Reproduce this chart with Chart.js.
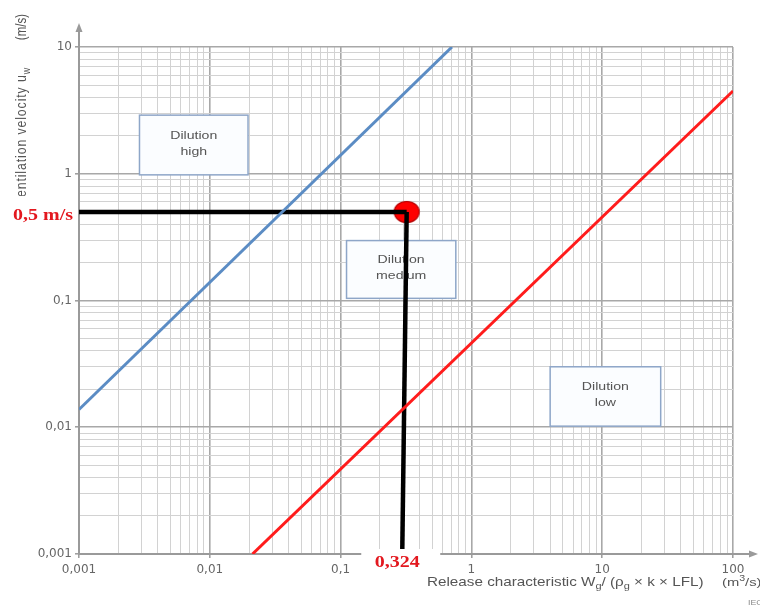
<!DOCTYPE html>
<html><head><meta charset="utf-8">
<script src="https://cdn.jsdelivr.net/npm/chart.js@4/dist/chart.umd.min.js"></script>
<style>html,body{margin:0;padding:0;background:#fff}canvas{display:block}</style>
</head><body>
<canvas id="c" width="760" height="612"></canvas>
<script>
// ---- data ----
const xDecades = [0.001, 0.01, 0.1, 1, 10, 100];
const xTickLabels = ['0,001', '0,01', '0,1', '1', '10', '100'];
const yDecades = [0.001, 0.01, 0.1, 1, 10];
const yTickLabels = ['0,001', '0,01', '0,1', '1', '10'];
const blueX = [0.001, 0.71];
const blueY = [0.0138, 10];
const redX = [0.0212, 100];
const redY = [0.001, 4.5];
const pointX = [0.32];
const pointY = [0.5];
const hLineX = [0.001, 0.32];
const hLineY = [0.5, 0.5];
const vLineX = [0.32, 0.296];
const vLineY = [0.5, 0.001];
const boxLabels = [['Dilution', 'high'], ['Dilution', 'medium'], ['Dilution', 'low']];
const boxX = [[0.0029, 0.0196], [0.111, 0.76], [4.0, 28]];
const boxY = [[0.98, 2.9], [0.104, 0.297], [0.0102, 0.030]];
const pointXLabel = '0,324';
const pointYLabel = '0,5 m/s';
const xTitleParts = [['Release characteristic W'], ['g', 1], ['/ (\u03c1'], ['g', 1], [' \u00d7 k \u00d7 LFL)']];
const xUnitParts = [['(m'], ['3', 2], ['/s)']];
const yTitleParts = [['Ventilation velocity u'], ['w', 1]];
const yUnitParts = [['(m/s)']];

// ---- helpers ----
const pts = (xs, ys) => xs.map((x, i) => ({ x, y: ys[i] }));
function gridValues(dec) {
  const out = [];
  for (let i = 0; i < dec.length - 1; i++) for (let m = 1; m < 10; m++) out.push(dec[i] * m);
  out.push(dec[dec.length - 1]);
  return out;
}
const decIndex = (v, dec) => dec.findIndex(d => Math.abs(d - v) / d < 1e-6);
const MAJOR = '#a8a8a8', MINOR = '#d2d2d2';
const SX = 1.25; // horizontal stretch of the reference text
const TXT = '#555555';
const FONT = 'Liberation Sans, Arial, sans-serif';

function partsWidth(ctx, parts, size) {
  let w = 0;
  for (const p of parts) {
    ctx.font = (p[1] ? size * 0.72 : size) + 'px ' + FONT;
    w += ctx.measureText(p[0]).width;
  }
  return w;
}
function drawParts(ctx, parts, size) { // draws from (0,0), baseline middle
  let x = 0;
  for (const p of parts) {
    const s = p[1] ? size * 0.72 : size;
    ctx.font = s + 'px ' + FONT;
    const dy = p[1] === 1 ? size * 0.3 : (p[1] === 2 ? -size * 0.35 : 0);
    ctx.fillText(p[0], x, dy);
    x += ctx.measureText(p[0]).width;
  }
}

// ellipse point image
const dot = document.createElement('canvas');
dot.width = 28; dot.height = 24;
(() => {
  const g = dot.getContext('2d');
  g.beginPath(); g.ellipse(14, 12, 12.5, 10.5, 0, 0, Math.PI * 2);
  g.fillStyle = '#ff0000'; g.fill();
  g.lineWidth = 1.2; g.strokeStyle = '#b40000'; g.stroke();
})();

const boxPlugin = {
  id: 'boxes',
  beforeDatasetsDraw(chart) {
    const { ctx, scales: { x, y } } = chart;
    ctx.save();
    boxLabels.forEach((lab, i) => {
      const l = x.getPixelForValue(boxX[i][0]), r = x.getPixelForValue(boxX[i][1]);
      const t = y.getPixelForValue(boxY[i][1]), b = y.getPixelForValue(boxY[i][0]);
      ctx.fillStyle = '#fbfdff';
      ctx.fillRect(l, t, r - l, b - t);
      ctx.strokeStyle = '#8ea6c8'; ctx.lineWidth = 1.5;
      ctx.strokeRect(l, t, r - l, b - t);
      ctx.fillStyle = TXT; ctx.textBaseline = 'middle';
      const h = b - t;
      lab.forEach((s, k) => {
        ctx.font = '11.3px ' + FONT;
        const w = ctx.measureText(s).width * SX;
        ctx.save();
        ctx.translate((l + r) / 2 - w / 2, t + h * (k === 0 ? 0.34 : 0.61));
        ctx.scale(SX, 1);
        ctx.textAlign = 'left';
        ctx.fillText(s, 0, 0);
        ctx.restore();
      });
    });
    ctx.restore();
  }
};

const decoPlugin = {
  id: 'deco',
  afterDraw(chart) {
    const { ctx, scales: { x, y } } = chart;
    const ax = x.left, ay = y.bottom;
    ctx.save();
    // axis arrows
    ctx.strokeStyle = '#9a9a9a'; ctx.fillStyle = '#9a9a9a'; ctx.lineWidth = 2;
    ctx.beginPath(); ctx.moveTo(ax, y.top); ctx.lineTo(ax, y.top - 18); ctx.stroke();
    ctx.beginPath(); ctx.moveTo(ax, y.top - 24); ctx.lineTo(ax - 3.5, y.top - 15); ctx.lineTo(ax + 3.5, y.top - 15); ctx.closePath(); ctx.fill();
    ctx.beginPath(); ctx.moveTo(x.right, ay); ctx.lineTo(x.right + 18, ay); ctx.stroke();
    ctx.beginPath(); ctx.moveTo(x.right + 25, ay); ctx.lineTo(x.right + 16, ay - 3.5); ctx.lineTo(x.right + 16, ay + 3.5); ctx.closePath(); ctx.fill();

    // x title
    ctx.fillStyle = TXT; ctx.textBaseline = 'middle'; ctx.textAlign = 'left';
    ctx.save(); ctx.translate(427, 583); ctx.scale(SX, 1); drawParts(ctx, xTitleParts, 12.2); ctx.restore();
    ctx.save(); ctx.translate(722, 583); ctx.scale(SX, 1); drawParts(ctx, xUnitParts, 11.8); ctx.restore();
    // y title (rotated)
    ctx.letterSpacing = '0.9px';
    const ySize = 12.3;
    const wMain = partsWidth(ctx, yTitleParts, ySize);
    ctx.save(); ctx.translate(22, 67 + wMain); ctx.scale(SX, 1); ctx.rotate(-Math.PI / 2); drawParts(ctx, yTitleParts, ySize); ctx.restore();
    ctx.letterSpacing = '0px';
    const wUnit = partsWidth(ctx, yUnitParts, 11.5);
    ctx.save(); ctx.translate(22, 14 + wUnit); ctx.scale(SX, 1); ctx.rotate(-Math.PI / 2); drawParts(ctx, yUnitParts, 11.5); ctx.restore();
    // IEC mark
    ctx.font = '7px ' + FONT; ctx.fillStyle = '#888';
    ctx.save(); ctx.translate(748, 603); ctx.scale(SX, 1); ctx.fillText('IEC', 0, 0); ctx.restore();

    // value labels with white backgrounds
    const py = y.getPixelForValue(pointY[0]);
    ctx.fillStyle = '#ffffff';
    ctx.fillRect(0, py - 16, ax - 1, 45);
    const vx = x.getPixelForValue(vLineX[1]);
    ctx.fillRect(vx - 41, ay - 5, 79, 26);
    ctx.fillStyle = '#e3181f';
    ctx.font = 'bold 16px Liberation Serif, serif';
    ctx.textBaseline = 'middle'; ctx.textAlign = 'center';
    ctx.save(); ctx.translate(43, py + 4); ctx.scale(SX, 1); ctx.fillText(pointYLabel, 0, 0); ctx.restore();
    ctx.save(); ctx.translate(vx - 5, ay + 9); ctx.scale(SX, 1); ctx.fillText(pointXLabel, 0, 0); ctx.restore();
    ctx.restore();
  }
};

const gridColor = dec => c => (c.tick && decIndex(c.tick.value, dec) >= 0) ? MAJOR : MINOR;
const gridWidth = dec => c => (c.tick && decIndex(c.tick.value, dec) >= 0) ? 1.6 : 1;
const tickColor = dec => c => (c.tick && decIndex(c.tick.value, dec) >= 0) ? '#9a9a9a' : 'rgba(0,0,0,0)';

new Chart(document.getElementById('c'), {
  type: 'scatter',
  data: {
    datasets: [
      { data: pts(blueX, blueY), showLine: true, borderColor: '#5b8cc4', borderWidth: 3, pointRadius: 0 },
      { data: pts(redX, redY), showLine: true, borderColor: '#ff1c1c', borderWidth: 3, pointRadius: 0 },
      { data: pts(hLineX, hLineY), showLine: true, borderColor: '#000000', borderWidth: 4.5, pointRadius: 0, borderCapStyle: 'butt' },
      { data: pts(vLineX, vLineY), showLine: true, borderColor: '#000000', borderWidth: 4.5, pointRadius: 0, borderCapStyle: 'butt' },
      { data: pts(pointX, pointY), pointStyle: dot, pointRadius: 12 }
    ]
  },
  options: {
    responsive: false,
    devicePixelRatio: 1,
    animation: false,
    layout: { padding: { top: 47, right: 27, left: 0, bottom: 0 } },
    plugins: { legend: { display: false }, tooltip: { enabled: false } },
    scales: {
      x: {
        type: 'logarithmic', min: xDecades[0], max: xDecades[xDecades.length - 1],
        afterBuildTicks: s => { s.ticks = gridValues(xDecades).map(v => ({ value: v })); },
        afterFit: s => { s.height = 58; },
        ticks: {
          autoSkip: false, maxRotation: 0, padding: 5, color: '#666',
          font: { family: 'DejaVu Sans', size: 12 },
          callback: v => { const i = decIndex(v, xDecades); return i >= 0 ? xTickLabels[i] : ''; }
        },
        grid: { color: gridColor(xDecades), lineWidth: gridWidth(xDecades), tickLength: 4, tickColor: tickColor(xDecades), tickWidth: 1.5 },
        border: { display: true, color: '#9a9a9a', width: 2 }
      },
      y: {
        type: 'logarithmic', min: yDecades[0], max: yDecades[yDecades.length - 1],
        afterBuildTicks: s => { s.ticks = gridValues(yDecades).map(v => ({ value: v })); },
        afterFit: s => { s.width = 79; },
        ticks: {
          autoSkip: false, padding: 3, color: '#666',
          font: { family: 'DejaVu Sans', size: 12 },
          callback: v => { const i = decIndex(v, yDecades); return i >= 0 ? yTickLabels[i] : ''; }
        },
        grid: { color: gridColor(yDecades), lineWidth: gridWidth(yDecades), tickLength: 4, tickColor: tickColor(yDecades), tickWidth: 1.5 },
        border: { display: true, color: '#9a9a9a', width: 2 }
      }
    }
  },
  plugins: [boxPlugin, decoPlugin]
});
</script>
</body></html>
